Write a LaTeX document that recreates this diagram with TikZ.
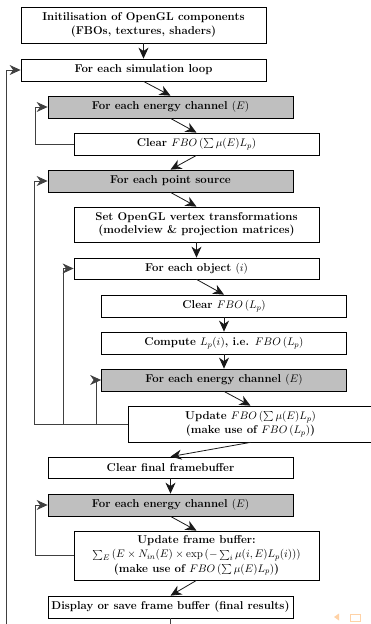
\documentclass[tikz,border=0pt]{standalone}
\usetikzlibrary{arrows.meta,calc}
\begin{document}
\begin{tikzpicture}[x=1pt,y=-1pt,
  box/.style={draw=black,line width=0.75pt,rectangle,minimum width=245pt,
    minimum height=22pt,inner sep=1pt,align=center,
    font=\fontsize{11.4}{13.8}\selectfont\bfseries},
  loopbox/.style={box,fill=black!25},
  flow/.style={line width=0.8pt,draw=black!90,
    -{Stealth[length=11pt,width=10pt,inset=3.5pt]}},
  back/.style={line width=0.9pt,draw=black!75,
    -{Stealth[length=11pt,width=10pt,inset=3.5pt]}}]
\useasboundingbox (0,0) rectangle (371,624);
\clip (0,0) rectangle (371,624);

% stages of the pipeline
\node[box,minimum height=36pt] (b1) at (143.5,25)
  {Initilisation of OpenGL components\\(FBOs, textures, shaders)};
\node[box] (b2) at (143.5,70) {For each simulation loop};
\node[loopbox] (b3) at (170.5,107) {For each energy channel $(E)$};
\node[box] (b4) at (196.5,144) {Clear $FBO\left(\sum\mu(E)L_p\right)$};
\node[loopbox] (b5) at (170.5,181) {For each point source};
\node[box,minimum height=35pt] (b6) at (196.5,224.5)
  {Set OpenGL vertex transformations\\(modelview \& projection matrices)};
\node[box,minimum height=21pt] (b7) at (196.5,268.5) {For each object $(i)$};
\node[box] (b8) at (224,306) {Clear $FBO\left(L_p\right)$};
\node[box] (b9) at (224,343) {Compute $L_p(i)$, i.e. $FBO\left(L_p\right)$};
\node[loopbox] (b10) at (224,380) {For each energy channel $(E)$};
\node[box,minimum height=36pt] (b11) at (250.5,424)
  {Update $FBO\left(\sum\mu(E)L_p\right)$\\(make use of $FBO\left(L_p\right)$)};
\node[box,minimum height=21pt] (b12) at (170.5,467.5) {Clear final framebuffer};
\node[loopbox] (b13) at (170.5,505) {For each energy channel $(E)$};
\node[box,minimum height=49pt] (b14) at (196.5,555.5)
  {Update frame buffer:\\[0.5pt]
   $\sum_E\left(E\times N_{in}(E)\times\exp\left(-\sum_i\mu(i,E)L_p(i)\right)\right)$\\[0.5pt]
   (make use of $FBO\left(\sum\mu(E)L_p\right)$)};
\node[box] (b15) at (170.5,607) {Display or save frame buffer (final results)};

% forward flow
\draw[flow] (b1.south) -- (b2.north);
\draw[flow] (b2.south) -- (b3.north);
\draw[flow] (b3.south) -- (b4.north);
\draw[flow] (b4.south) -- (b5.north);
\draw[flow] (b5.south) -- (b6.north);
\draw[flow] (b6.south) -- (b7.north);
\draw[flow] (b7.south) -- (b8.north);
\draw[flow] (b8.south) -- (b9.north);
\draw[flow] (b9.south) -- (b10.north);
\draw[flow] (b10.south) -- (b11.north);
\draw[flow] (b11.south) -- (b12.north);
\draw[flow] (b12.south) -- (b13.north);
\draw[flow] (b13.south) -- (b14.north);
\draw[flow] (b14.south) -- (b15.north);

% loop returns
\draw[back] (b4.west) -- ++(-38,0) |- (b3.west);
\draw[back] (b11.west) -| ([xshift=-13pt]b5.west) -- (b5.west);
\draw[back] (b11.west) -| ([xshift=-10pt]b7.west) -- (b7.west);
\draw[back] (b11.west) -| ([xshift=-5pt]b10.west) -- (b10.west);
\draw[back] (b14.west) -- ++(-38,0) |- (b13.west);
\draw[back] (b15.south) -- ++(0,30) -| ([xshift=-14pt]b2.west) -- (b2.west);

% navigation symbols
\fill[orange!35] (334,617) -- (339,613.5) -- (339,620.5) -- cycle;
\draw[orange!35,line width=0.8pt] (350.5,614) rectangle (360,621);
\end{tikzpicture}
\end{document}
